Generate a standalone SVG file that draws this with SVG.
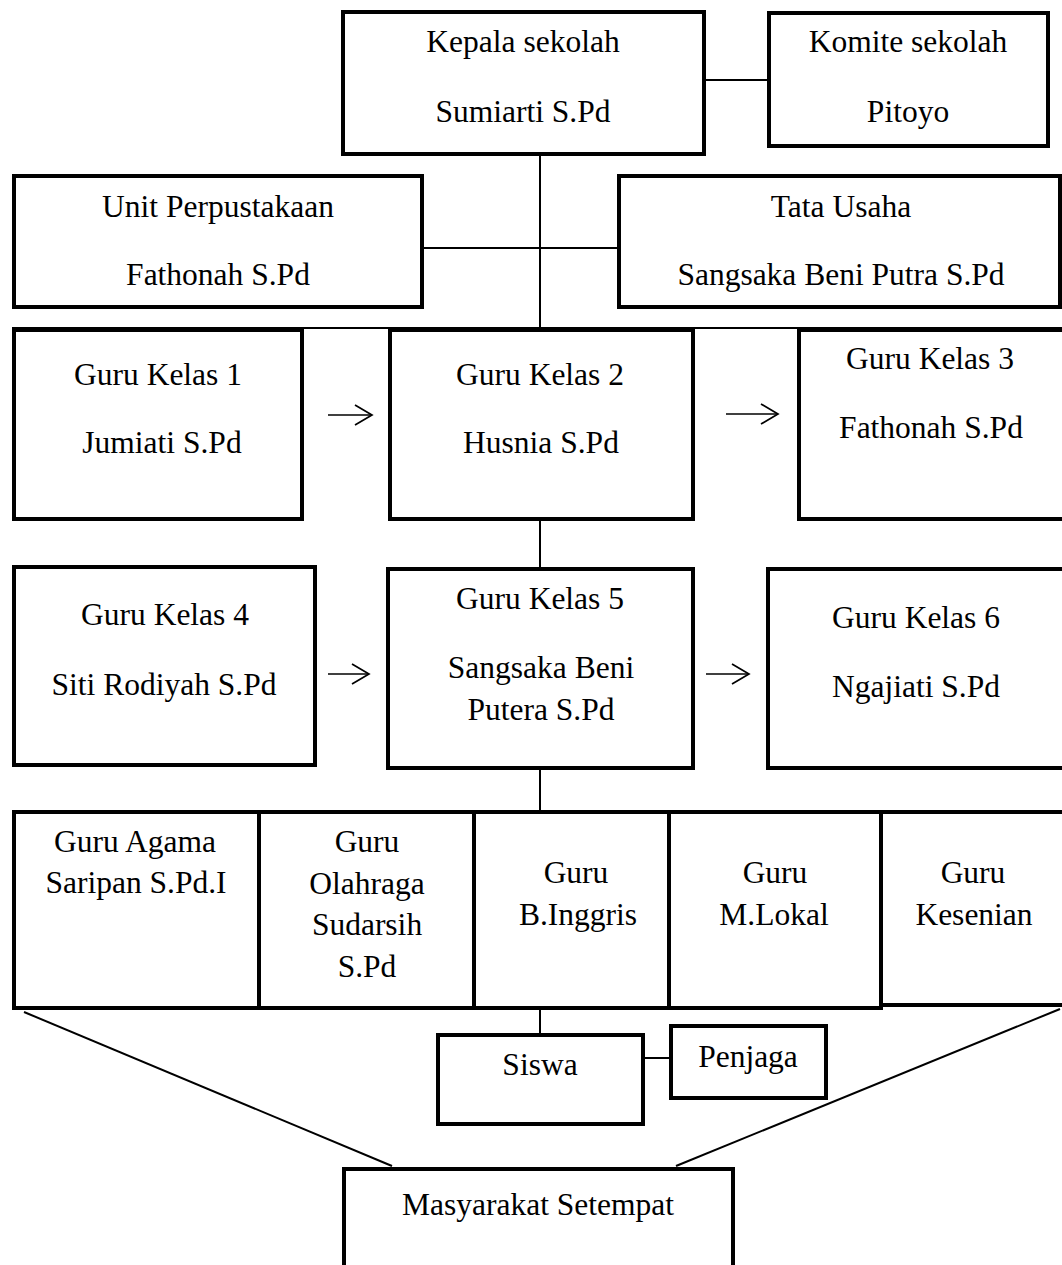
<svg xmlns="http://www.w3.org/2000/svg" width="1062" height="1265" viewBox="0 0 1062 1265">
<style>
.box{fill:#fff;stroke:#000;stroke-width:4}
.ln{fill:none;stroke:#000;stroke-width:2}
.ar{fill:none;stroke:#000;stroke-width:1.7}
text{font-family:"Liberation Serif","Times New Roman",serif;font-size:31.5px;fill:#000;text-anchor:middle}
</style>
<defs>
<marker id="ah" viewBox="0 0 20 22" refX="18" refY="11" markerWidth="20" markerHeight="22" markerUnits="userSpaceOnUse" orient="auto">
<path d="M1,1 L18,11 L1,21" fill="none" stroke="#000" stroke-width="1.7"/>
</marker>
</defs>
<rect width="1062" height="1265" fill="#fff"/>
<g id="connectors">
<line class="ln" x1="706" y1="80" x2="767" y2="80"/>
<line class="ln" x1="540" y1="156" x2="540" y2="328"/>
<line class="ln" x1="424" y1="248" x2="617" y2="248"/>
<line class="ln" x1="12" y1="328" x2="1062" y2="328"/>
<line class="ln" x1="540" y1="521" x2="540" y2="567"/>
<line class="ln" x1="540" y1="770" x2="540" y2="810"/>
<line class="ln" x1="540" y1="1010" x2="540" y2="1033"/>
<line class="ln" x1="645" y1="1058" x2="669" y2="1058"/>
<line class="ln" x1="24" y1="1012" x2="392" y2="1166"/>
<line class="ln" x1="1060" y1="1009" x2="676" y2="1166"/>
<line class="ar" x1="328" y1="415" x2="372" y2="415" marker-end="url(#ah)"/>
<line class="ar" x1="726" y1="414" x2="778" y2="414" marker-end="url(#ah)"/>
<line class="ar" x1="328" y1="674" x2="369" y2="674" marker-end="url(#ah)"/>
<line class="ar" x1="706" y1="674" x2="749" y2="674" marker-end="url(#ah)"/>
</g>
<g id="kepala"><rect class="box" x="343" y="12" width="361" height="142"/><text x="523" y="52">Kepala sekolah</text><text x="523" y="122">Sumiarti S.Pd</text></g>
<g id="komite"><rect class="box" x="769" y="13" width="279" height="133"/><text x="908" y="52">Komite sekolah</text><text x="908" y="122">Pitoyo</text></g>
<g id="perpustakaan"><rect class="box" x="14" y="176" width="408" height="131"/><text x="218" y="217">Unit Perpustakaan</text><text x="218" y="285">Fathonah S.Pd</text></g>
<g id="tatausaha"><rect class="box" x="619" y="176" width="441" height="131"/><text x="841" y="217">Tata Usaha</text><text x="841" y="285">Sangsaka Beni Putra S.Pd</text></g>
<g id="kelas1"><rect class="box" x="14" y="330" width="288" height="189"/><text x="158" y="385">Guru Kelas 1</text><text x="162" y="453">Jumiati S.Pd</text></g>
<g id="kelas2"><rect class="box" x="390" y="330" width="303" height="189"/><text x="540" y="385">Guru Kelas 2</text><text x="541" y="453">Husnia S.Pd</text></g>
<g id="kelas3"><rect class="box" x="799" y="330" width="280" height="189"/><text x="930" y="369">Guru Kelas 3</text><text x="931" y="438">Fathonah S.Pd</text></g>
<g id="kelas4"><rect class="box" x="14" y="567" width="301" height="198"/><text x="165" y="625">Guru Kelas 4</text><text x="164" y="695">Siti Rodiyah S.Pd</text></g>
<g id="kelas5"><rect class="box" x="388" y="569" width="305" height="199"/><text x="540" y="609">Guru Kelas 5</text><text x="541" y="678">Sangsaka Beni</text><text x="541" y="720">Putera S.Pd</text></g>
<g id="kelas6"><rect class="box" x="768" y="569" width="310" height="199"/><text x="916" y="628">Guru Kelas 6</text><text x="916" y="697">Ngajiati S.Pd</text></g>
<g id="agama"><rect class="box" x="14" y="812" width="245" height="196"/><text x="135" y="852">Guru Agama</text><text x="136" y="893">Saripan S.Pd.I</text></g>
<g id="olahraga"><rect class="box" x="259" y="812" width="215" height="196"/><text x="367" y="852">Guru</text><text x="367" y="894">Olahraga</text><text x="367" y="935">Sudarsih</text><text x="367" y="977">S.Pd</text></g>
<g id="inggris"><rect class="box" x="474" y="812" width="195" height="196"/><text x="576" y="883">Guru</text><text x="578" y="925">B.Inggris</text></g>
<g id="mlokal"><rect class="box" x="669" y="812" width="212" height="196"/><text x="775" y="883">Guru</text><text x="774" y="925">M.Lokal</text></g>
<g id="kesenian"><rect class="box" x="881" y="812" width="200" height="193"/><text x="973" y="883">Guru</text><text x="974" y="925">Kesenian</text></g>
<g id="siswa"><rect class="box" x="438" y="1035" width="205" height="89"/><text x="540" y="1075">Siswa</text></g>
<g id="penjaga"><rect class="box" x="671" y="1026" width="155" height="72"/><text x="748" y="1067">Penjaga</text></g>
<g id="masyarakat"><rect class="box" x="344" y="1169" width="389" height="110"/><text x="538" y="1215">Masyarakat Setempat</text></g>
</svg>
